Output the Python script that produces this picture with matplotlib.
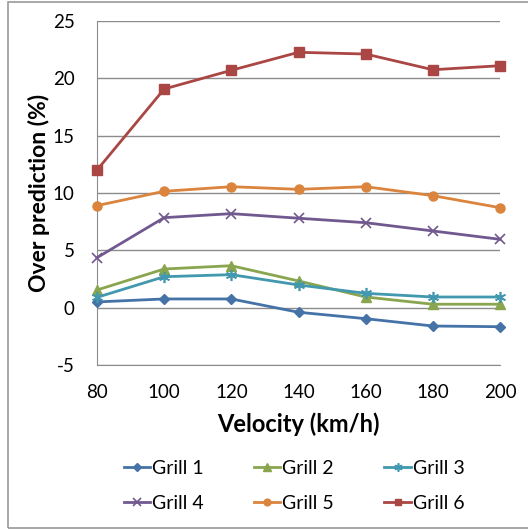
import matplotlib
matplotlib.use("Agg")
import matplotlib.pyplot as plt
from matplotlib.patches import Rectangle

velocity = [80, 100, 120, 140, 160, 180, 200]
grill1 = [0.5, 0.76, 0.76, -0.4, -0.96, -1.6, -1.66]
grill2 = [1.54, 3.37, 3.66, 2.33, 0.93, 0.3, 0.3]
grill3 = [0.9, 2.7, 2.88, 1.98, 1.25, 0.93, 0.93]
grill4 = [4.36, 7.85, 8.2, 7.8, 7.41, 6.69, 5.96]
grill5 = [8.9, 10.15, 10.55, 10.32, 10.55, 9.77, 8.72]
grill6 = [12.0, 19.07, 20.7, 22.27, 22.12, 20.75, 21.1]
series_names = ["Grill 1", "Grill 2", "Grill 3", "Grill 4", "Grill 5", "Grill 6"]
y_ticks = [-5, 0, 5, 10, 15, 20, 25]

plt.rcParams['font.family'] = ['Lato', 'DejaVu Sans']
plt.rcParams['axes.unicode_minus'] = False

fig = plt.figure(figsize=(5.28, 5.30), dpi=100)
ax = fig.add_axes([97/528, 1-365/530, (500-97)/528, (365-21)/530])

styles = [
    dict(color="#4572A7", marker="D", ms=5),
    dict(color="#89A54E", marker="^", ms=7),
    dict(color="#4198AF", marker=(6, 2, 0), ms=8, mew=1.2),
    dict(color="#71588F", marker="x", ms=7, mew=1.2),
    dict(color="#DB843D", marker="o", ms=6.5),
    dict(color="#AA4643", marker="s", ms=6.5),
]
data = [grill1, grill2, grill3, grill4, grill5, grill6]
for name, vals, st in zip(series_names, data, styles):
    ax.plot(velocity, vals, color=st["color"], lw=2.0, marker=st["marker"],
            markersize=st["ms"], markeredgewidth=st.get("mew", 1.0),
            markeredgecolor=st["color"], markerfacecolor=st["color"],
            label=name, zorder=3)

ax.set_xlim(80, 200)
ax.set_ylim(-5, 25)
ax.set_xticks(velocity)
ax.set_yticks(y_ticks)
ax.yaxis.grid(True, color="#8c8c8c", lw=1.0)
ax.set_axisbelow(True)
for s in ["top", "right"]:
    ax.spines[s].set_visible(False)
ax.spines["left"].set_color("#8c8c8c")
ax.spines["bottom"].set_color("#8c8c8c")
ax.tick_params(axis="both", length=0, labelsize=13.5, colors="black")
ax.tick_params(axis="x", pad=14)
ax.tick_params(axis="y", pad=16)
ax.set_xlabel("Velocity (km/h)", fontsize=17, fontweight="bold", labelpad=8)
ax.set_ylabel("Over prediction (%)", fontsize=16.5, fontweight="bold", labelpad=2)
for ln in ax.lines:
    ln.set_clip_on(False)

handles, labels = ax.get_legend_handles_labels()
order = [0, 3, 1, 4, 2, 5]
leg = fig.legend([handles[i] for i in order], [labels[i] for i in order],
                 loc="center", bbox_to_anchor=(294/528, 1-486/530), ncol=3,
                 frameon=False, fontsize=14, handlelength=1.35, handletextpad=0.1,
                 columnspacing=2.6, labelspacing=0.95)
for h in leg.legend_handles:
    h.set_markersize(h.get_markersize() * 0.75)

fig.patches.append(Rectangle((8/528, 2/530), 1.0, 526/530, transform=fig.transFigure,
                             fill=False, edgecolor="#9a9a9a", lw=1.2))

fig.savefig("out.png", dpi=100)
